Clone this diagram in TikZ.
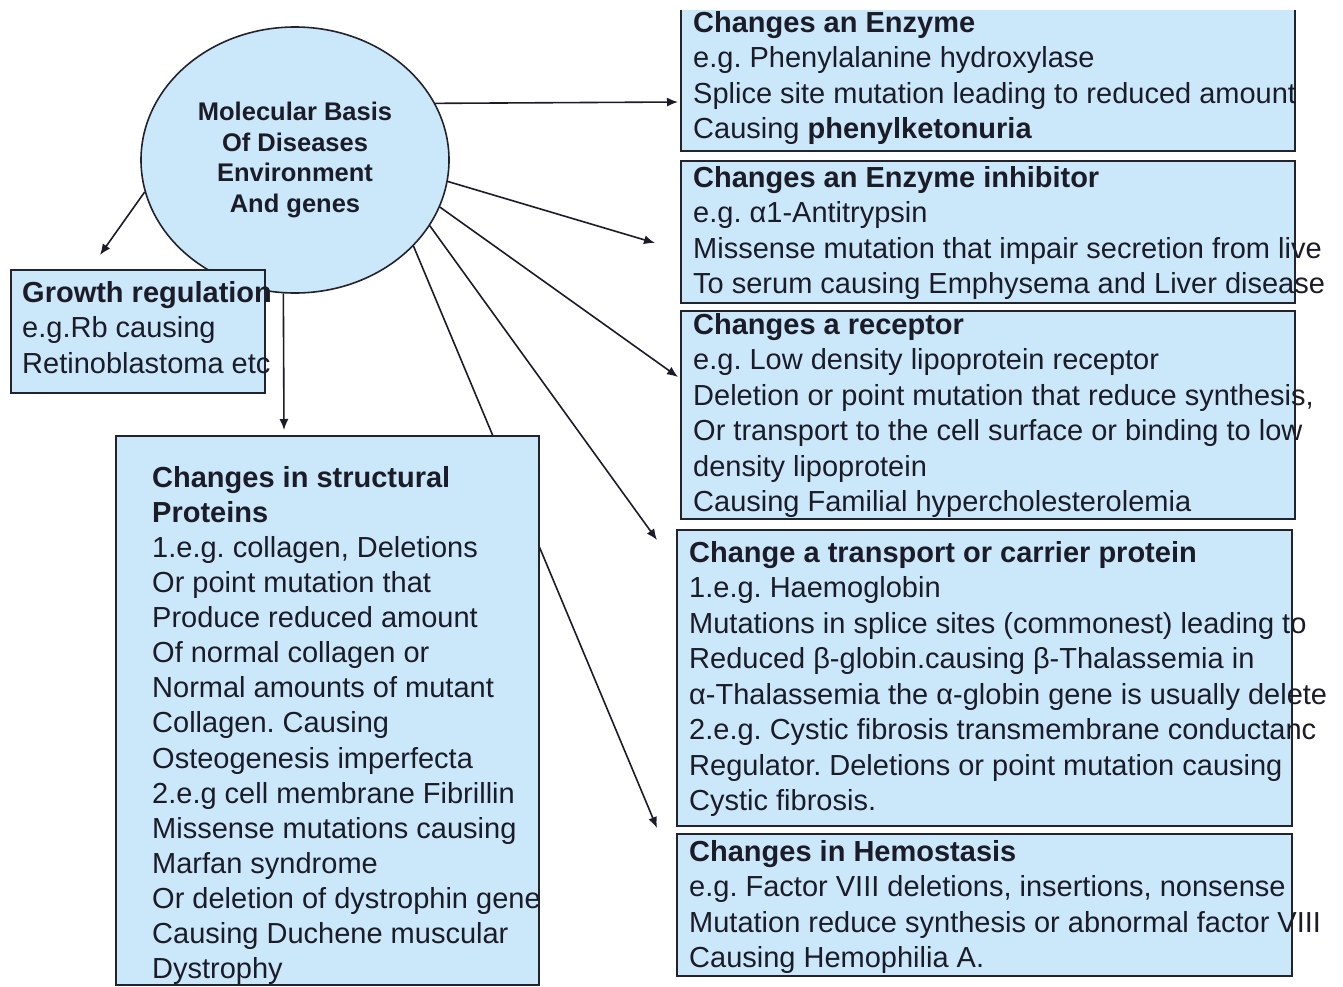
\documentclass[tikz,border=0pt]{standalone}
\usepackage{fontspec}
\setmainfont{Liberation Sans}
\usetikzlibrary{shapes.geometric,arrows.meta}
\definecolor{boxfill}{RGB}{202,232,250}
\definecolor{boxline}{RGB}{35,35,45}
\definecolor{ink}{RGB}{28,28,40}
\tikzset{
  box/.style={draw=boxline, fill=boxfill, line width=1.8pt, rectangle, inner sep=0pt, anchor=north west},
  txt/.style={anchor=north west, inner sep=0pt, align=left, text=ink, font=\fontsize{29pt}{35.5pt}\selectfont},
  conn/.style={line width=1.6pt, draw=ink, -{Latex[length=11pt,width=9pt]}},
}
\newcommand{\firstline}{\rule{0pt}{22pt}}
\frenchspacing
\begin{document}
\begin{tikzpicture}[x=1pt,y=-1pt]
\useasboundingbox (0,0) rectangle (1343,986);
\fill[white] (0,0) rectangle (1343,986);
\clip (0,10) rectangle (1343,986);

% central ellipse
\node[ellipse, draw=boxline, fill=boxfill, line width=1.6pt, minimum width=308pt, minimum height=266pt,
      inner sep=0pt, align=center, text=ink, font=\bfseries\fontsize{25.5pt}{30.7pt}\selectfont]
  (c) at (295,160) {Molecular Basis\\Of Diseases\\Environment\\And genes};

% arrow end points
\coordinate (e1) at (678,102);
\coordinate (e2) at (655,243);
\coordinate (e3) at (678,377);
\coordinate (e4) at (657,540);
\coordinate (e5) at (657,828);
\coordinate (e6) at (100,255);
\coordinate (e7) at (284,430);

\draw[conn] (c.22) -- (e1);
\draw[conn] (c.-8.4) -- (e2);
\draw[conn] (c.-18.3) -- (e3);
\draw[conn] (c.-26.4) -- (e4);
\draw[conn] (c.-36.3) -- (e5);
\draw[conn] (c.192) -- (e6);
\draw[conn] (c.265) -- (e7);

% boxes
\node[box, minimum width=614pt, minimum height=142pt] (b1) at (680,8) {};
\node[box, minimum width=614pt, minimum height=142pt] (b2) at (680,160) {};
\node[box, minimum width=614pt, minimum height=208pt] (b3) at (680,310) {};
\node[box, minimum width=615pt, minimum height=296pt] (b4) at (676,529) {};
\node[box, minimum width=615pt, minimum height=142pt] (b5) at (676,833) {};
\node[box, minimum width=254pt, minimum height=123pt] (g) at (10,269) {};
\node[box, minimum width=423pt, minimum height=549pt] (s) at (115,435) {};

% texts
\node[txt] (t1) at (693,10) {\firstline\textbf{Changes an Enzyme}\\
e.g. Phenylalanine hydroxylase\\
Splice site mutation leading to reduced amount\\
Causing \textbf{phenylketonuria}};

\node[txt] (t2) at (693,165) {\firstline\textbf{Changes an Enzyme inhibitor}\\
e.g. α1-Antitrypsin\\
Missense mutation that impair secretion from live\\
To serum causing Emphysema and Liver disease};

\node[txt] (t3) at (693,312) {\firstline\textbf{Changes a receptor}\\
e.g. Low density lipoprotein receptor\\
Deletion or point mutation that reduce synthesis,\\
Or transport to the cell surface or binding to low\\
density lipoprotein\\
Causing Familial hypercholesterolemia};

\node[txt] (t4) at (689,540) {\firstline\textbf{Change a transport or carrier protein}\\
1.e.g. Haemoglobin\\
Mutations in splice sites (commonest) leading to\\
Reduced β-globin.causing β-Thalassemia in\\
α-Thalassemia the α-globin gene is usually delete\\
2.e.g. Cystic fibrosis transmembrane conductanc\\
Regulator. Deletions or point mutation causing\\
Cystic fibrosis.};

\node[txt] (t5) at (689,839) {\firstline\textbf{Changes in Hemostasis}\\
e.g. Factor VIII deletions, insertions, nonsense\\
Mutation reduce synthesis or abnormal factor VIII\\
Causing Hemophilia A.};

\node[txt] (tg) at (22,280) {\firstline\textbf{Growth regulation}\\
e.g.Rb causing\\
Retinoblastoma etc};

\node[txt, font=\fontsize{29pt}{35.1pt}\selectfont] (ts) at (152,465) {\firstline\textbf{Changes in structural}\\
\textbf{Proteins}\\
1.e.g. collagen, Deletions\\
Or point mutation that\\
Produce reduced amount\\
Of normal collagen or\\
Normal amounts of mutant\\
Collagen. Causing\\
Osteogenesis imperfecta\\
2.e.g cell membrane Fibrillin\\
Missense mutations causing\\
Marfan syndrome\\
Or deletion of dystrophin gene\\
Causing Duchene muscular\\
Dystrophy};
\end{tikzpicture}
\end{document}
